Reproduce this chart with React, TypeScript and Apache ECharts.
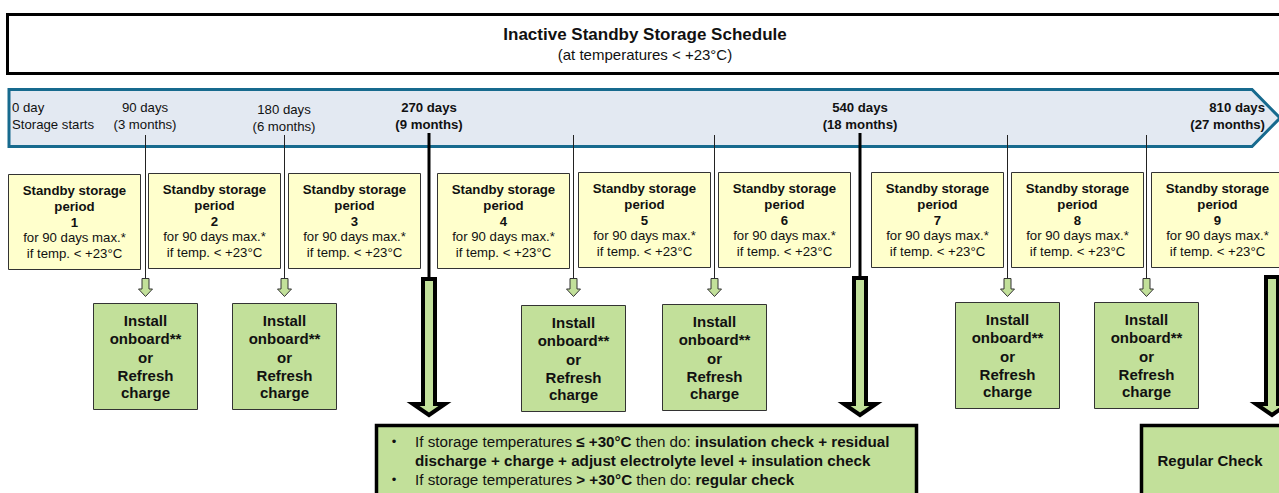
import React, { useEffect, useRef } from 'react';
import * as echarts from 'echarts';

// ---------- data ----------
const titleText = 'Inactive Standby Storage Schedule';
const subtitleText = '(at temperatures < +23°C)';

const milestoneTop = ['0 day', '90 days', '180 days', '270 days', '540 days', '810 days'];
const milestoneSub = ['Storage starts', '(3 months)', '(6 months)', '(9 months)', '(18 months)', '(27 months)'];
const milestoneBold = [false, false, false, true, true, true];

const periodNumbers = ['1', '2', '3', '4', '5', '6', '7', '8', '9'];
const periodHead = ['Standby storage', 'period'];
const periodRule = ['for 90 days max.*', 'if temp. < +23°C'];

const installLines = ['Install', 'onboard**', 'or', 'Refresh', 'charge'];
// tick index (90-day steps, 0 = 90 days) that ends with an install/refresh action
const installTicks = [0, 1, 3, 4, 6, 7];
// tick index that ends with a major check (thick arrow)
const majorTicks = [2, 5, 8];

const regularCheckText = 'Regular Check';

// ---------- layout ----------
const FONT = '"Liberation Sans", Arial, Helvetica, sans-serif';
const tickX = [145, 284, 429, 573, 714, 860, 1007, 1146, 1272];
const labelX = [12, 145, 284, 429, 860, 1265];
const labelAlign = ['left', 'center', 'center', 'center', 'center', 'right'];
const labelDy = [0, 0, 2, 0, 0, 0];
const boxLeft = [8, 148, 288, 437, 578, 718, 871, 1011, 1151];
const boxTop = [174, 173, 173, 173, 172, 172, 172, 172, 172];
const installTop = [303, 303, 305, 304, 302, 302];
const majorTop = [279, 278, 277];

const YELLOW = '#ffffcc';
const GREEN = '#c2e09a';
const BAND_FILL = '#e3e9f2';
const BAND_STROKE = '#176a8e';

function txt(text: string, x: number, y: number, size: number, bold: boolean, align = 'center', z = 10) {
  return {
    type: 'text',
    z,
    style: {
      text,
      x,
      y,
      fill: '#111',
      fontSize: size,
      fontFamily: FONT,
      fontWeight: bold ? 'bold' : 'normal',
      align,
      textAlign: align,
      verticalAlign: 'middle',
      textVerticalAlign: 'middle',
    },
  };
}

function buildElements() {
  const els: any[] = [];

  // title box
  els.push({
    type: 'rect', z: 1,
    shape: { x: 7.5, y: 14.5, width: 1300, height: 59 },
    style: { fill: '#fff', stroke: '#000', lineWidth: 3 },
  });
  els.push(txt(titleText, 645, 34.5, 17, true));
  els.push(txt(subtitleText, 645, 54.5, 15, false));

  // timeline band
  els.push({
    type: 'polygon', z: 1,
    shape: { points: [[9, 89.5], [1252, 89.5], [1280, 118], [1252, 146.5], [9, 146.5]] },
    style: { fill: BAND_FILL, stroke: BAND_STROKE, lineWidth: 3, lineJoin: 'miter' },
  });
  milestoneTop.forEach((t, i) => {
    els.push(txt(t, labelX[i], 107.5 + labelDy[i], 13.2, milestoneBold[i], labelAlign[i]));
    els.push(txt(milestoneSub[i], labelX[i], 124.5 + labelDy[i], 13.2, milestoneBold[i], labelAlign[i]));
  });

  // thin lines + small arrows for install ticks
  installTicks.forEach((ti, k) => {
    const x = tickX[ti] + 0.5;
    els.push({ type: 'line', z: 2, shape: { x1: x, y1: 135, x2: x, y2: 279 }, style: { stroke: '#222', lineWidth: 1 } });
    const cx = tickX[ti] + 0.5;
    els.push({
      type: 'polygon', z: 3,
      shape: {
        points: [
          [cx - 3.5, 278.5], [cx + 3.5, 278.5], [cx + 3.5, 289], [cx + 7, 289],
          [cx, 296.5], [cx - 7, 289], [cx - 3.5, 289],
        ],
      },
      style: { fill: GREEN, stroke: '#333', lineWidth: 1 },
    });
    // install box
    const top = installTop[k];
    els.push({
      type: 'rect', z: 3,
      shape: { x: cx - 52, y: top + 0.5, width: 104, height: 106 },
      style: { fill: GREEN, stroke: '#333', lineWidth: 1 },
    });
    const offs = [17, 35, 54, 72, 89];
    installLines.forEach((l, j) => els.push(txt(l, cx, top + offs[j], 15, true)));
  });

  // yellow period boxes
  periodNumbers.forEach((n, i) => {
    const x = boxLeft[i];
    const y = boxTop[i];
    els.push({
      type: 'rect', z: 2,
      shape: { x: x + 0.5, y: y + 0.5, width: 132, height: 95 },
      style: { fill: YELLOW, stroke: '#333', lineWidth: 1 },
    });
    const cx = x + 66.5;
    els.push(txt(periodHead[0], cx, y + 16, 13.2, true));
    els.push(txt(periodHead[1], cx, y + 32, 13.2, true));
    els.push(txt(n, cx, y + 48, 13.2, true));
    els.push(txt(periodRule[0], cx, y + 63.5, 13.2, false));
    els.push(txt(periodRule[1], cx, y + 79, 13.2, false));
  });

  // thick lines + big arrows for major ticks
  majorTicks.forEach((ti, k) => {
    const cx = tickX[ti];
    const top = majorTop[k];
    if (ti < 8) {
      els.push({ type: 'line', z: 2, shape: { x1: cx, y1: 133, x2: cx, y2: top }, style: { stroke: '#000', lineWidth: 3 } });
    }
    els.push({
      type: 'polygon', z: 4,
      shape: {
        points: [
          [cx - 6, top], [cx + 6, top], [cx + 6, 404], [cx + 16, 404],
          [cx, 415], [cx - 16, 404], [cx - 6, 404],
        ],
      },
      style: { fill: GREEN, stroke: '#000', lineWidth: 4, lineJoin: 'miter' },
    });
  });

  // bottom action boxes
  els.push({
    type: 'rect', z: 5,
    shape: { x: 376.5, y: 425.5, width: 540, height: 90 },
    style: { fill: GREEN, stroke: '#000', lineWidth: 3.5 },
  });
  els.push({
    type: 'rect', z: 5,
    shape: { x: 1141.5, y: 425.5, width: 200, height: 90 },
    style: { fill: GREEN, stroke: '#000', lineWidth: 3.5 },
  });
  els.push(txt(regularCheckText, 1210, 460.5, 15, true));

  const FS = 15.2;
  const rich = {
    n: { fontSize: FS, fontFamily: FONT, fontWeight: 'normal', fill: '#111' },
    b: { fontSize: FS, fontFamily: FONT, fontWeight: 'bold', fill: '#111' },
  };
  const richLine = (text: string, y: number) => ({
    type: 'text', z: 10,
    style: {
      text, x: 415, y, rich, fill: '#111', fontSize: FS, fontFamily: FONT,
      align: 'left', textAlign: 'left', verticalAlign: 'middle', textVerticalAlign: 'middle',
    },
  });
  els.push(txt('•', 394, 441.5, 13, false));
  els.push(richLine('{n|If storage temperatures }{b|≤ +30°C}{n| then do: }{b|insulation check + residual}', 441.5));
  els.push(richLine('{b|discharge + charge + adjust electrolyte level + insulation check}', 460.5));
  els.push(txt('•', 394, 479.5, 13, false));
  els.push(richLine('{n|If storage temperatures }{b|> +30°C}{n| then do: }{b|regular check}', 479.5));

  return els;
}

export default function App() {
  const ref = useRef<HTMLDivElement>(null);
  useEffect(() => {
    if (!ref.current) return;
    const chart = echarts.init(ref.current, null, { renderer: 'svg' });
    chart.setOption({
      animation: false,
      backgroundColor: '#ffffff',
      graphic: { elements: buildElements() },
    });
    return () => chart.dispose();
  }, []);
  return (
    <div
      ref={ref}
      style={{ position: 'fixed', left: 0, top: 0, width: 1279, height: 493, background: '#fff' }}
    />
  );
}
